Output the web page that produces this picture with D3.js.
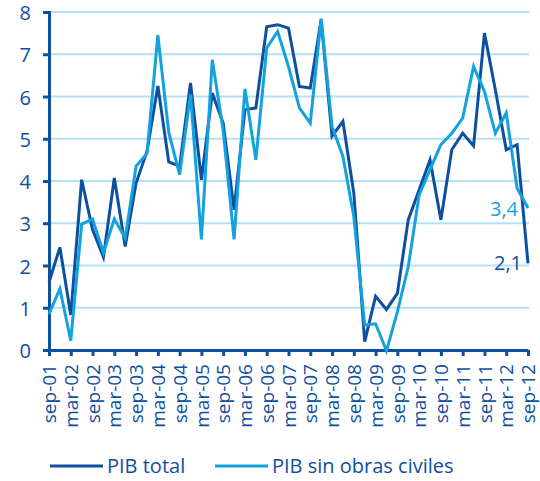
<!DOCTYPE html>
<html>
<head>
<meta charset="utf-8">
<script src="https://cdn.jsdelivr.net/npm/d3@7"></script>
<style>
  body { margin: 0; background: #fff; }
  svg text { font-family: "Open Sans", "Noto Sans", sans-serif; }
</style>
</head>
<body>
<script>
// quarterly periods, sep-01 .. sep-12
const quarters = [];
const months = ["sep", "dic", "mar", "jun"];
for (let i = 0; i < 45; i++) {
    const yr = 2001 + Math.floor((i + 2) / 4);
    quarters.push(months[i % 4] + "-" + String(yr % 100).padStart(2, "0"));
}
const tickLabels = quarters.filter((d, i) => i % 2 === 0);

const pibTotal = [1.6, 2.43, 0.83, 4.03, 2.85, 2.2, 4.07, 2.45, 3.95, 4.7, 6.25, 4.45, 4.35, 6.32,
    4.03, 6.08, 5.37, 3.32, 5.69, 5.73, 7.65, 7.7, 7.62, 6.24, 6.2, 7.82, 5.06, 5.41, 3.71, 0.2,
    1.27, 0.96, 1.34, 3.08, 3.79, 4.5, 3.08, 4.74, 5.13, 4.83, 7.5, 6.16, 4.74, 4.86, 2.05];
const pibSinObras = [0.85, 1.45, 0.22, 2.98, 3.1, 2.3, 3.1, 2.65, 4.35, 4.65, 7.45, 5.15, 4.15, 6.05,
    2.62, 6.87, 5.2, 2.62, 6.18, 4.5, 7.15, 7.54, 6.71, 5.73, 5.37, 7.84, 5.29, 4.58, 3.16, 0.59,
    0.62, -0.02, 0.9, 1.97, 3.67, 4.27, 4.86, 5.13, 5.49, 6.71, 6.12, 5.13, 5.61, 3.83, 3.36];
const yTicks = [0, 1, 2, 3, 4, 5, 6, 7, 8];

const width = 540, height = 481;
const margin = {top: 12, right: 12, bottom: 131, left: 49};
const darkBlue = "#0f4fa0";
const lightBlue = "#14a2dd";

const svg = d3.select("body").append("svg")
    .attr("width", width)
    .attr("height", height);

const x = d3.scaleLinear()
    .domain([0, quarters.length - 1])
    .range([margin.left, width - margin.right]);
const y = d3.scaleLinear()
    .domain([0, 8])
    .range([height - margin.bottom, margin.top]);

// gridlines
svg.append("g").selectAll("line")
    .data(yTicks.filter(d => d > 0))
    .enter().append("line")
    .attr("x1", margin.left)
    .attr("x2", width - margin.right + 1)
    .attr("y1", d => y(d))
    .attr("y2", d => y(d))
    .style("stroke", "#b3e1f6")
    .style("stroke-width", 2);

// y axis
const yAxis = svg.append("g")
    .attr("transform", `translate(${margin.left},0)`)
    .call(d3.axisLeft(y).tickValues(yTicks).tickSize(6).tickPadding(12));
yAxis.select(".domain").style("stroke", darkBlue).style("stroke-width", 3);
yAxis.selectAll(".tick line").style("stroke", darkBlue).style("stroke-width", 3);
yAxis.selectAll("text")
    .style("fill", darkBlue)
    .style("font-size", "20px")
    .attr("dy", "0.38em");

// x axis
const xAxis = svg.append("g")
    .attr("transform", `translate(0,${y(0)})`)
    .call(d3.axisBottom(x)
        .tickValues(d3.range(0, quarters.length, 2))
        .tickFormat(i => tickLabels[i / 2])
        .tickSize(6).tickSizeOuter(0));
xAxis.select(".domain").style("stroke", darkBlue).style("stroke-width", 3);
xAxis.selectAll(".tick line").style("stroke", darkBlue).style("stroke-width", 3);
xAxis.selectAll("text")
    .style("fill", darkBlue)
    .style("font-size", "19px")
    .attr("text-anchor", "end")
    .attr("dy", "0.35em")
    .attr("transform", "translate(0,6) rotate(-90)")
    .attr("x", -8)
    .attr("y", 0);

const line = d3.line()
    .x((d, i) => x(i))
    .y(d => y(d));

svg.append("path")
    .datum(pibTotal)
    .attr("d", line)
    .style("fill", "none")
    .style("stroke", darkBlue)
    .style("stroke-width", 3);

svg.append("path")
    .datum(pibSinObras)
    .attr("d", line)
    .style("fill", "none")
    .style("stroke", lightBlue)
    .style("stroke-width", 3);

// end labels
const last = quarters.length - 1;
svg.append("text")
    .attr("x", x(last) - 10)
    .attr("y", y(pibSinObras[last]) + 8)
    .attr("text-anchor", "end")
    .style("fill", lightBlue)
    .style("font-size", "20px")
    .text("3,4");
svg.append("text")
    .attr("x", x(last) - 6)
    .attr("y", y(pibTotal[last]) + 7)
    .attr("text-anchor", "end")
    .style("fill", darkBlue)
    .style("font-size", "20px")
    .text("2,1");

// legend
const legendItems = [
    {name: "PIB total", color: darkBlue, x: 50},
    {name: "PIB sin obras civiles", color: lightBlue, x: 215}
];
const legend = svg.append("g").attr("transform", "translate(0,466)");
legendItems.forEach(item => {
    legend.append("line")
        .attr("x1", item.x).attr("x2", item.x + 53)
        .attr("y1", 0).attr("y2", 0)
        .style("stroke", item.color)
        .style("stroke-width", 3);
    legend.append("text")
        .attr("x", item.x + 57)
        .attr("y", 7)
        .style("fill", darkBlue)
        .style("font-size", "20px")
        .text(item.name);
});
</script>
</body>
</html>
